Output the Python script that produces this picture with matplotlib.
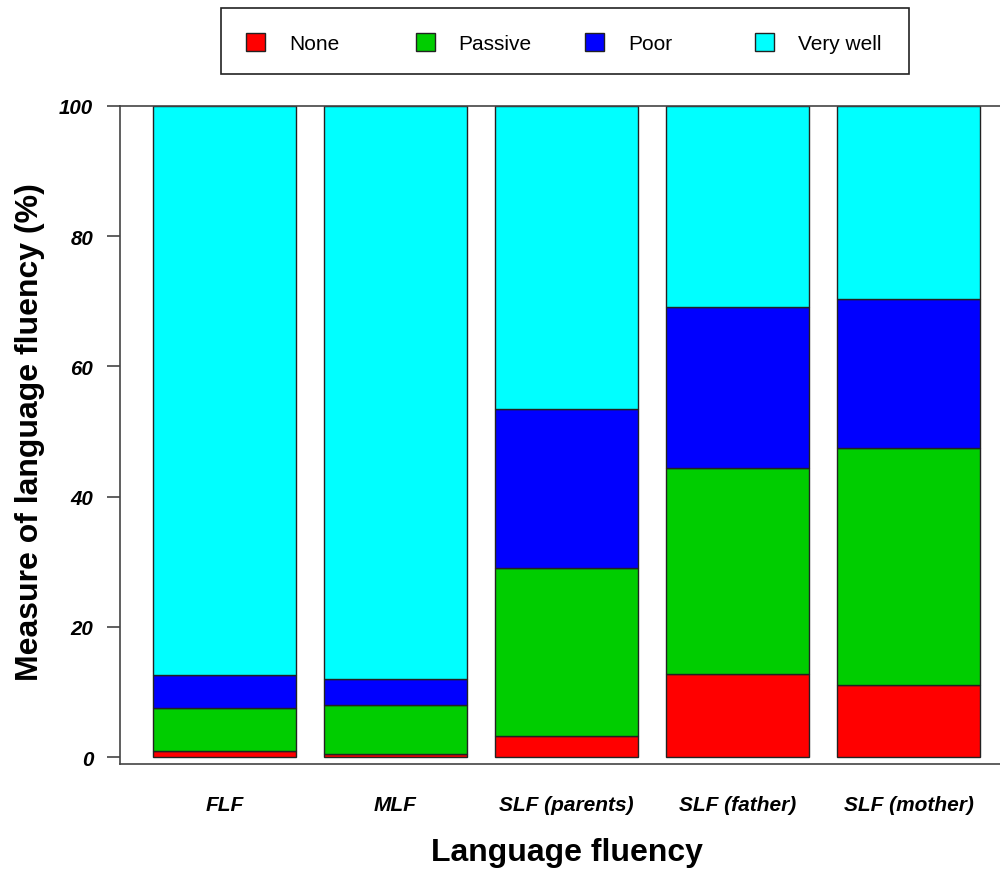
import matplotlib
matplotlib.use("Agg")
import matplotlib.pyplot as plt
import numpy as np
from matplotlib.patches import Rectangle

plt.rcParams["font.family"] = ["Liberation Sans", "DejaVu Sans"]

groups = ["FLF", "MLF", "SLF (parents)", "SLF (father)", "SLF (mother)"]
levels = ["None", "Passive", "Poor", "Very well"]
colors = ["#FF0000", "#00CD00", "#0000FF", "#00FFFF"]

# percentage of each level per group
none_pct = [0.9, 0.4, 3.3, 12.8, 11.0]
passive_pct = [6.7, 7.6, 25.8, 31.6, 36.5]
poor_pct = [5.0, 4.0, 24.4, 24.8, 22.8]
verywell_pct = [87.4, 88.0, 46.5, 30.8, 29.7]

series = [none_pct, passive_pct, poor_pct, verywell_pct]

fig = plt.figure(figsize=(10, 8.7), dpi=100)
ax = fig.add_axes([0.12, 1 - 765 / 870, 0.88, (765 - 107) / 870])

x = np.arange(len(groups))
bottom = np.zeros(len(groups))
for vals, col, lab in zip(series, colors, levels):
    ax.bar(x, vals, width=0.836, bottom=bottom, color=col, edgecolor="#222222",
           linewidth=1.0, label=lab)
    bottom += np.array(vals)

ax.set_xlim(-0.611, 4.535)
ax.set_ylim(-1.07, 100)
ax.set_yticks([0, 20, 40, 60, 80, 100])
ax.set_xticks(x)
ax.set_xticklabels(groups, fontsize=15, fontweight="bold", fontstyle="italic")
for t in ax.get_yticklabels():
    t.set_fontsize(14.8)
    t.set_fontweight("bold")
    t.set_fontstyle("italic")
ax.tick_params(axis="x", length=0, pad=22)
ax.tick_params(axis="y", length=9.4, width=1.2, color="#444444", pad=10, direction="out")

ax.spines["right"].set_visible(False)
for s in ["left", "bottom", "top"]:
    ax.spines[s].set_color("#444444")
    ax.spines[s].set_linewidth(1.2)

fig.text(0.030, 1 - 432 / 870, "Measure of language fluency (%)", rotation=90,
         ha="center", va="center", fontsize=23, fontweight="bold")
fig.text(0.567, 1 - 853 / 870, "Language fluency", ha="center", va="center",
         fontsize=23, fontweight="bold")

# legend box drawn like the R one: equal pitch columns
fig.patches.append(Rectangle((0.221, 1 - 75 / 870), 0.688, 66 / 870,
                             transform=fig.transFigure, facecolor="white",
                             edgecolor="#222222", linewidth=1.2))
ycen = 1 - 43 / 870
for i, (lab, col) in enumerate(zip(levels, colors)):
    x0 = 0.246 + i * 0.1695
    fig.patches.append(Rectangle((x0, ycen - 9 / 870), 0.019, 18 / 870,
                                 transform=fig.transFigure, facecolor=col,
                                 edgecolor="#222222", linewidth=1.0))
    fig.text(x0 + 0.043, ycen - 1.5 / 870, lab, ha="left", va="center", fontsize=15)

fig.savefig("out.png", dpi=100)
